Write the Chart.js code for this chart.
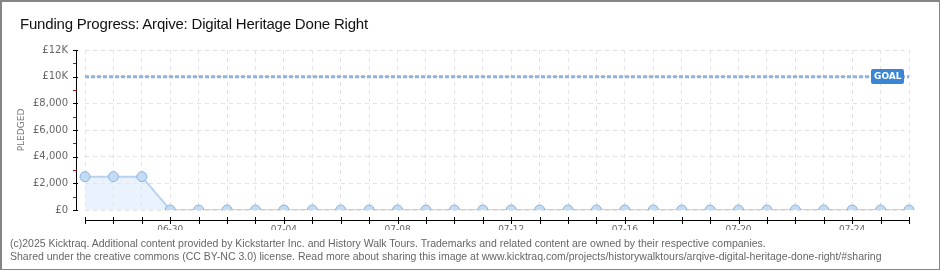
<!DOCTYPE html>
<html>
<head>
<meta charset="utf-8">
<script src="https://cdn.jsdelivr.net/npm/chart.js@4.4.0/dist/chart.umd.min.js"></script>
<style>
  body { margin: 0; background: #fff; }
  #wrap { position: relative; width: 940px; height: 270px; box-sizing: border-box; overflow: hidden; }
  #frame { position: absolute; left: 0; top: 0; width: 940px; height: 270px; box-sizing: border-box;
           border-style: solid; border-color: #858585; border-width: 2px 1px 1px 2px; pointer-events: none; }
  #chart { position: absolute; left: 0; top: 0; }
  #title { position: absolute; left: 20px; top: 15px; font: 15px "Liberation Sans", sans-serif; letter-spacing: -0.2px; color: #111; white-space: nowrap; }
  .foot { position: absolute; left: 10px; font: 10.5px "Liberation Sans", sans-serif; color: #666; white-space: nowrap; }
</style>
</head>
<body>
<div id="wrap">
  <canvas id="chart" width="940" height="270"></canvas>
  <div id="title">Funding Progress: Arqive: Digital Heritage Done Right</div>
  <div class="foot" style="top:237px">(c)2025 Kicktraq. Additional content provided by Kickstarter Inc. and History Walk Tours. Trademarks and related content are owned by their respective companies.</div>
  <div class="foot" style="top:250px">Shared under the creative commons (CC BY-NC 3.0) license. Read more about sharing this image at www.kicktraq.com/projects/historywalktours/arqive-digital-heritage-done-right/#sharing</div>
  <div id="frame"></div>
</div>
<script>
// data
var days = ['06-27','06-28','06-29','06-30','07-01','07-02','07-03','07-04','07-05','07-06',
            '07-07','07-08','07-09','07-10','07-11','07-12','07-13','07-14','07-15','07-16',
            '07-17','07-18','07-19','07-20','07-21','07-22','07-23','07-24','07-25','07-26'];
var pledged = [2500,2500,2500,0,0,0,0,0,0,0,0,0,0,0,0,0,0,0,0,0,0,0,0,0,0,0,0,0,0,0];
var goal = [10000,10000,10000,10000,10000,10000,10000,10000,10000,10000,10000,10000,10000,10000,10000,
            10000,10000,10000,10000,10000,10000,10000,10000,10000,10000,10000,10000,10000,10000,10000];
var yTicks = [0,2000,4000,6000,8000,10000,12000];
var yTickLabels = ['£0','£2,000','£4,000','£6,000','£8,000','£10K','£12K'];
var yMinor = [1000,3000,5000,7000,9000,11000];

// axes are drawn a little away from the plot, like the original
var axesPlugin = {
  id: 'axes',
  afterDraw: function(chart) {
    var ctx = chart.ctx;
    var area = chart.chartArea;
    var ys = chart.scales.y, xs = chart.scales.x;
    var ax = Math.round(area.left) - 9;
    var ay = Math.round(area.bottom) + 10;
    var top = Math.round(ys.getPixelForValue(12000));
    var bot = Math.round(ys.getPixelForValue(0));
    ctx.save();
    ctx.fillStyle = '#000';
    ctx.fillRect(ax, top, 1, bot - top + 1);
    for (var i = 0; i < yTicks.length; i++) {
      ctx.fillRect(ax - 3, Math.round(ys.getPixelForValue(yTicks[i])), 5, 1);
    }
    ctx.fillStyle = '#e00000';
    for (var j = 0; j < yMinor.length; j++) {
      ctx.fillRect(ax - 3, Math.round(ys.getPixelForValue(yMinor[j])), 3, 1);
    }
    ctx.fillStyle = '#000';
    ctx.fillRect(Math.round(area.left), ay, Math.round(area.right - area.left) + 1, 1);
    for (var k = 0; k < days.length; k++) {
      ctx.fillRect(Math.round(xs.getPixelForValue(k)), ay - 3, 1, 7);
    }

    // goal badge
    var gy = ys.getPixelForValue(goal[goal.length - 1]);
    var gx = Math.round(xs.getPixelForValue(goal.length - 1)) - 5;
    var w = 33, h = 15, r = 2;
    var bx = gx - w, by = Math.round(gy) - 8;
    ctx.fillStyle = '#3a86d4';
    ctx.beginPath();
    ctx.roundRect(bx, by, w, h, r);
    ctx.fill();
    ctx.fillStyle = '#fff';
    ctx.font = 'bold 9px "DejaVu Sans", sans-serif';
    ctx.textBaseline = 'middle';
    ctx.fillText('GOAL', bx + 3, by + h / 2 + 0.5);
    ctx.restore();
  }
};

new Chart(document.getElementById('chart'), {
  type: 'line',
  data: {
    labels: days,
    datasets: [{
      label: 'Goal',
      data: goal,
      borderColor: '#8fb3dd',
      borderWidth: 3,
      borderDash: [4, 2],
      pointRadius: 0,
      fill: false,
      order: 2
    }, {
      label: 'Pledged',
      data: pledged,
      borderColor: '#b6d3f2',
      borderWidth: 2,
      backgroundColor: 'rgba(220,234,251,0.6)',
      fill: 'origin',
      tension: 0,
      pointRadius: 5,
      pointBackgroundColor: '#c3dcf6',
      pointBorderColor: '#8db2da',
      pointBorderWidth: 1,
      order: 1
    }]
  },
  options: {
    responsive: false,
    animation: false,
    layout: { padding: { left: 0, right: 31, top: 50, bottom: 40 } },
    plugins: { legend: { display: false }, tooltip: { enabled: false } },
    scales: {
      x: {
        offset: false,
        afterFit: function(s) { s.height = 20; },
        grid: { color: '#e2e2e2', drawTicks: false },
        border: { display: false, dash: [4, 4] },
        ticks: {
          autoSkip: false, maxRotation: 0, padding: 14,
          color: '#666', font: { size: 9, family: 'DejaVu Sans' },
          callback: function(v, i) { return (i - 3) % 4 === 0 ? days[i] : ''; }
        }
      },
      y: {
        min: 0, max: 12000,
        afterFit: function(s) { s.width = 85; },
        afterBuildTicks: function(s) { s.ticks = yTicks.map(function(v) { return { value: v }; }); },
        grid: { color: '#e2e2e2', drawTicks: false },
        border: { display: false, dash: [4, 4] },
        title: { display: true, text: 'PLEDGED', color: '#777', font: { size: 9, family: 'DejaVu Sans' }, padding: { top: 16 } },
        ticks: {
          padding: 17, color: '#666', font: { size: 10, family: 'DejaVu Sans' },
          callback: function(v, i) { return yTickLabels[i]; }
        }
      }
    }
  },
  plugins: [axesPlugin]
});
</script>
</body>
</html>
